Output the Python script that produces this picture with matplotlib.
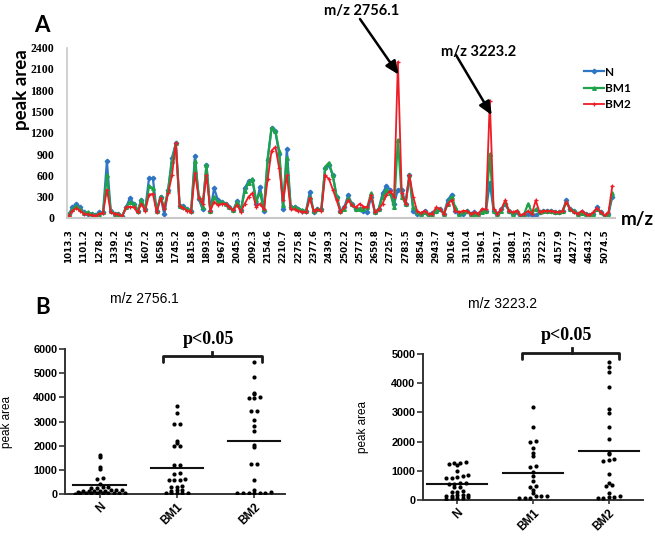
import matplotlib
matplotlib.use("Agg")
import matplotlib.pyplot as plt
import numpy as np

# ---- panel A data: peak area per m/z ----
mz_labels = ["1013.3", "1101.2", "1278.2", "1339.2", "1475.6", "1607.2", "1658.3",
             "1745.2", "1815.8", "1893.9", "1967.6", "2045.3", "2092.3", "2154.6",
             "2210.7", "2275.8", "2377.6", "2439.3", "2502.2", "2577.3", "2659.8",
             "2725.7", "2783.5", "2854.9", "2943.7", "3016.4", "3110.4", "3196.1",
             "3291.7", "3408.1", "3553.7", "3722.5", "4157.9", "4427.7", "4643.2",
             "5074.5"]

area_N = [50, 150, 200, 150, 80, 60, 60, 40, 80, 80,
          800, 100, 60, 60, 30, 150, 280, 200, 100, 250,
          120, 560, 560, 100, 300, 50, 400, 850, 1050, 170,
          170, 120, 100, 880, 270, 120, 750, 100, 420, 250,
          220, 200, 150, 110, 240, 110, 420, 520, 540, 200,
          440, 100, 820, 1270, 1220, 900, 130, 970, 150, 150,
          130, 100, 100, 370, 80, 130, 120, 700, 750, 600,
          300, 100, 150, 320, 200, 120, 130, 100, 80, 300,
          80, 130, 350, 450, 400, 200, 400, 400, 200, 600,
          100, 50, 60, 100, 40, 70, 100, 130, 60, 250,
          330, 100, 60, 60, 100, 60, 80, 60, 100, 100,
          500, 100, 60, 120, 200, 100, 60, 80, 20, 40,
          50, 40, 40, 80, 100, 100, 100, 90, 80, 100,
          250, 120, 100, 60, 80, 60, 40, 60, 150, 80,
          20, 60, 300]

area_BM1 = [50, 120, 170, 120, 70, 80, 60, 40, 60, 80,
            600, 100, 60, 60, 30, 150, 220, 200, 100, 250,
            120, 450, 420, 100, 300, 150, 400, 800, 1050, 170,
            150, 120, 100, 800, 300, 150, 750, 100, 300, 220,
            220, 200, 150, 110, 220, 110, 380, 500, 550, 250,
            350, 120, 850, 1270, 1220, 950, 180, 850, 150, 150,
            130, 110, 100, 300, 100, 130, 120, 720, 780, 600,
            300, 100, 120, 280, 200, 120, 130, 130, 150, 350,
            80, 130, 300, 400, 350, 150, 1100, 300, 200, 600,
            150, 80, 60, 80, 20, 60, 100, 120, 60, 200,
            300, 150, 60, 80, 100, 60, 60, 40, 80, 100,
            900, 100, 60, 100, 220, 100, 60, 100, 30, 60,
            200, 80, 120, 80, 100, 100, 100, 90, 80, 100,
            220, 120, 100, 60, 70, 60, 40, 60, 130, 80,
            20, 60, 350]

area_BM2 = [30, 100, 140, 100, 60, 50, 40, 30, 60, 70,
            400, 80, 60, 50, 20, 150, 160, 150, 80, 200,
            100, 330, 340, 80, 280, 120, 350, 600, 1060, 170,
            140, 100, 90, 630, 280, 200, 600, 100, 230, 180,
            200, 200, 150, 110, 180, 90, 200, 300, 350, 160,
            200, 120, 550, 950, 1000, 700, 250, 600, 120, 120,
            100, 90, 80, 280, 100, 120, 100, 600, 550, 400,
            250, 80, 150, 250, 180, 150, 200, 160, 150, 320,
            80, 120, 200, 330, 380, 300, 2200, 350, 200, 600,
            300, 100, 70, 100, 60, 60, 150, 130, 50, 200,
            250, 100, 80, 100, 100, 60, 80, 60, 130, 120,
            1650, 130, 60, 120, 250, 100, 80, 100, 40, 60,
            100, 60, 250, 80, 100, 100, 100, 90, 80, 100,
            230, 120, 80, 60, 100, 60, 40, 80, 140, 80,
            40, 80, 450]

# ---- panel B data: individual samples and group means ----
groups = ["N", "BM1", "BM2"]

mz2756_N = [1600, 1550, 1100, 1050, 650, 620, 420, 300, 280, 260, 250, 160, 150, 150,
            140, 130, 130, 120, 110, 100, 60, 50, 50, 40, 40, 40, 30, 30, 30, 20]
mz2756_BM1 = [3640, 3370, 2900, 2900, 2180, 2100, 2000, 1990, 1210, 1180, 870, 840,
              620, 600, 590, 560, 320, 300, 280, 160, 150, 130, 60, 50, 40, 30, 30]
mz2756_BM2 = [5480, 4830, 4200, 4130, 4020, 3980, 3990, 3430, 3420, 3050, 2800, 2620,
              2030, 1960, 1260, 1230, 580, 160, 70, 60, 50, 50, 40, 40, 30]
mz2756_mean = [380, 1080, 2210]

mz3223_N = [1300, 1280, 1260, 1250, 1200, 990, 840, 820, 800, 770, 760, 590, 580, 560,
            540, 460, 450, 300, 280, 270, 180, 170, 160, 150, 140, 90, 80, 70, 60, 50]
mz3223_BM1 = [3170, 2510, 2030, 1990, 1790, 1600, 1490, 1150, 1130, 970, 830, 640,
              470, 450, 340, 230, 140, 130, 120, 80, 70, 60]
mz3223_BM2 = [4720, 4560, 4370, 3860, 3120, 2980, 2510, 2080, 1620, 1560, 1420, 1350,
              1380, 880, 580, 480, 520, 230, 120, 110, 100, 70, 60]
mz3223_mean = [550, 920, 1670]

W, H = 655, 541


def fx(px):
    return px / W


def fy(py):
    return 1 - py / H


def swarm_offsets(values, gap, step):
    # points closer than `gap` to the previous one share a row and are spread sideways
    vals = np.asarray(values, dtype=float)
    order = np.argsort(vals)
    srt = vals[order]
    offs = np.zeros(len(srt))
    start = 0
    for k in range(1, len(srt) + 1):
        if k == len(srt) or srt[k] - srt[k - 1] > gap:
            n = k - start
            offs[start:k] = (np.arange(n) - (n - 1) / 2) * step
            start = k
    out = np.zeros(len(srt))
    out[order] = offs
    return out


fig = plt.figure(figsize=(W / 100, H / 100), dpi=100)

# ================= panel A =================
axA = fig.add_axes([fx(66.7), fy(218), fx(615) - fx(66.7), (218 - 47.7) / H])
x = np.arange(len(area_N))
axA.plot(x, area_N, color="#2e75c4", lw=1.6, marker="D", ms=2.3, label="N")
axA.plot(x, area_BM1, color="#1ea34b", lw=1.6, marker="^", ms=2.6, label="BM1")
axA.plot(x, area_BM2, color="#ee1c24", lw=1.3, marker="+", ms=3.5, mew=0.9, label="BM2")
axA.set_xlim(-0.5, 142.7)
axA.set_ylim(0, 2400)
axA.set_yticks(range(0, 2401, 300))
axA.set_xticks(range(0, 4 * len(mz_labels), 4))
axA.set_xticklabels(mz_labels, rotation=90, fontsize=6.3, fontweight="bold",
                    family="DejaVu Sans")
for t in axA.get_yticklabels():
    t.set_fontfamily("Liberation Serif")
    t.set_fontweight("bold")
    t.set_fontsize(8.5)
axA.tick_params(axis="both", length=0, pad=8)
axA.tick_params(axis="y", pad=9)
for s in ["top", "right"]:
    axA.spines[s].set_visible(False)
axA.spines["left"].set_color("#c8c8c8")
axA.spines["bottom"].set_color("#c8c8c8")
axA.spines["left"].set_linewidth(1.2)
axA.spines["bottom"].set_linewidth(1.5)

axA.legend(loc="upper left", bbox_to_anchor=(fx(573), fy(56)),
           bbox_transform=fig.transFigure, frameon=False,
           prop={"family": "Lato", "weight": "bold", "size": 8.5},
           handlelength=1.7, handletextpad=0.15, labelspacing=0.45)

fig.text(fx(42), fy(26), "A", fontsize=16, fontweight="bold", family="Lato",
         ha="center", va="center")
fig.text(fx(22), fy(90), "peak area", rotation=90, fontsize=13.5, fontweight="bold",
         family="Lato", ha="center", va="center")
fig.text(fx(621), fy(220), "m/z", fontsize=13.5, fontweight="bold", family="Lato",
         ha="left", va="center")

# peak annotations
fig.text(fx(362), fy(11), "m/z 2756.1", fontsize=10.5, fontweight="bold",
         family="Lato", ha="center", va="center")
fig.text(fx(479), fy(52), "m/z 3223.2", fontsize=10.5, fontweight="bold",
         family="Lato", ha="center", va="center")
axA.annotate("", xy=(86.2, 2020), xycoords="data",
             xytext=(fx(360), fy(19)), textcoords="figure fraction",
             arrowprops=dict(arrowstyle="-|>,head_length=0.8,head_width=0.35",
                             color="black", lw=1.8, shrinkA=0, shrinkB=0))
axA.annotate("", xy=(110.5, 1450), xycoords="data",
             xytext=(fx(456), fy(55)), textcoords="figure fraction",
             arrowprops=dict(arrowstyle="-|>,head_length=0.8,head_width=0.35",
                             color="black", lw=1.8, shrinkA=0, shrinkB=0))


# ================= panel B =================
def draw_dots(ax, data, means, ymax, ystep, gap, step, half):
    for i, vals in enumerate(data):
        offs = swarm_offsets(vals, gap, step)
        ax.scatter(i + offs, vals, s=9, color="black", zorder=3, linewidths=0)
        ax.plot([i - half, i + half], [means[i], means[i]], color="#111111", lw=1.5)
    ax.set_ylim(0, ymax)
    ax.set_yticks(range(0, ymax + 1, ystep))
    ax.set_xticks(range(len(groups)))
    ax.set_xticklabels(groups, rotation=45, ha="right", rotation_mode="anchor",
                       fontsize=8.5, fontweight="bold", family="Liberation Sans")
    for t in ax.get_yticklabels():
        t.set_fontfamily("Liberation Sans")
        t.set_fontweight("bold")
        t.set_fontsize(7.8)
    for s in ["top", "right"]:
        ax.spines[s].set_visible(False)
    for s in ["left", "bottom"]:
        ax.spines[s].set_color("#333333")
        ax.spines[s].set_linewidth(1.4)
    ax.tick_params(axis="y", length=4, width=1.2, color="#333333", pad=1.5)
    ax.tick_params(axis="x", length=3, width=1.2, color="#333333", pad=2)


def draw_bracket(ax, x0, x1, xc, y_end, y_top, y_tip, y_text):
    ax.plot([x0, x0, x1, x1], [y_end, y_top, y_top, y_end], color="#1a1a1a", lw=2,
            solid_joinstyle="round", solid_capstyle="round", clip_on=False)
    ax.plot([xc, xc], [y_top, y_tip], color="#1a1a1a", lw=2, clip_on=False)
    ax.text((x0 + x1) / 2 - 0.05, y_text, "p<0.05", fontsize=13, fontweight="bold",
            family="Liberation Serif", ha="center", va="center", clip_on=False)


axB1 = fig.add_axes([fx(65), fy(494), 220 / W, (494 - 349) / H])
draw_dots(axB1, [mz2756_N, mz2756_BM1, mz2756_BM2], mz2756_mean, 6000, 1000,
          gap=35, step=0.072, half=0.34)
axB1.set_xlim(-0.45, 2.4)
draw_bracket(axB1, 0.82, 2.10, 1.45, 5460, 5710, 5880, 6400)
axB1.set_ylabel("peak area", fontsize=8.5, family="Liberation Sans")
axB1.yaxis.set_label_coords(-0.236, 0.5)
axB1.set_title("m/z 2756.1", fontsize=10, family="Liberation Sans", x=0.36, y=1.26)

axB2 = fig.add_axes([fx(423), fy(500), 220 / W, (500 - 354) / H])
draw_dots(axB2, [mz3223_N, mz3223_BM1, mz3223_BM2], mz3223_mean, 5000, 1000,
          gap=45, step=0.074, half=0.4)
axB2.set_xlim(-0.45, 2.45)
draw_bracket(axB2, 0.85, 2.14, 1.51, 4830, 5034, 5205, 5650)
axB2.set_ylabel("peak area", fontsize=8.5, family="Liberation Sans")
axB2.yaxis.set_label_coords(-0.245, 0.5)
axB2.set_title("m/z 3223.2", fontsize=10, family="Liberation Sans", x=0.36, y=1.26)

fig.text(fx(43), fy(307), "B", fontsize=16, fontweight="bold", family="Lato",
         ha="center", va="center")

fig.savefig("out.png", dpi=100)
